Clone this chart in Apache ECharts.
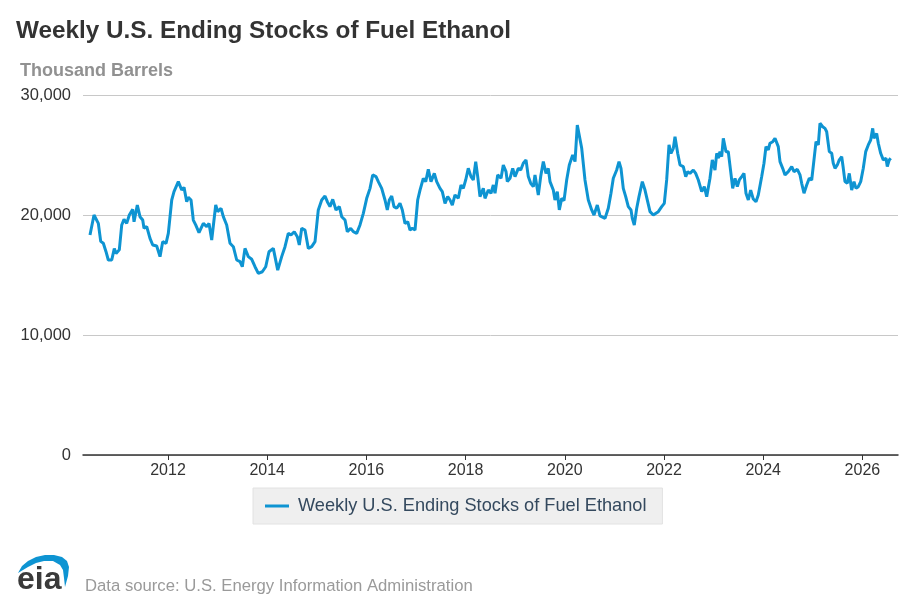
<!DOCTYPE html>
<html>
<head>
<meta charset="utf-8">
<script src="https://cdn.jsdelivr.net/npm/echarts@6/dist/echarts.min.js"></script>
<style>
html,body{margin:0;padding:0;background:#ffffff;}
#chart{width:914px;height:609px;}
</style>
</head>
<body>
<div id="chart"></div>
<script>
// ---- data ----
const seriesName = 'Weekly U.S. Ending Stocks of Fuel Ethanol';
const chartTitle = 'Weekly U.S. Ending Stocks of Fuel Ethanol';
const unitLabel = 'Thousand Barrels';
const sourceLabel = 'Data source: U.S. Energy Information Administration';

// time of each reading, in decimal years
const weekYears = [
  2010.427, 2010.508, 2010.528, 2010.595, 2010.643, 2010.696, 2010.750, 2010.796, 2010.865, 2010.917, 2010.952,
  2011.018, 2011.067, 2011.113, 2011.167, 2011.220, 2011.288, 2011.315, 2011.381, 2011.435, 2011.490, 2011.516, 2011.571, 2011.637, 2011.692, 2011.772, 2011.839, 2011.893, 2011.960,
  2012.006, 2012.075, 2012.121, 2012.208, 2012.276, 2012.323, 2012.377, 2012.409, 2012.464, 2012.510, 2012.558, 2012.625, 2012.712, 2012.780, 2012.827, 2012.881, 2012.962,
  2013.002, 2013.069, 2013.115, 2013.183, 2013.250, 2013.317, 2013.385, 2013.452, 2013.498, 2013.552, 2013.619, 2013.688, 2013.754, 2013.821, 2013.901, 2013.970,
  2014.036, 2014.123, 2014.212, 2014.292, 2014.359, 2014.425, 2014.480, 2014.546, 2014.607, 2014.647, 2014.696, 2014.762, 2014.829, 2014.897, 2014.964,
  2015.030, 2015.099, 2015.165, 2015.212, 2015.266, 2015.321, 2015.387, 2015.454, 2015.502, 2015.569, 2015.615, 2015.683, 2015.736, 2015.804, 2015.871, 2015.938,
  2016.006, 2016.073, 2016.127, 2016.194, 2016.240, 2016.308, 2016.375, 2016.421, 2016.462, 2016.510, 2016.556, 2016.611, 2016.677, 2016.724, 2016.778, 2016.833, 2016.879, 2016.925, 2016.980,
  2017.034, 2017.081, 2017.147, 2017.196, 2017.248, 2017.302, 2017.369, 2017.417, 2017.484, 2017.530, 2017.585, 2017.639, 2017.686, 2017.732, 2017.786, 2017.853, 2017.907, 2017.954,
  2018.002, 2018.054, 2018.109, 2018.155, 2018.204, 2018.244, 2018.290, 2018.357, 2018.391, 2018.458, 2018.512, 2018.559, 2018.593, 2018.647, 2018.714, 2018.760, 2018.815, 2018.841, 2018.895, 2018.950, 2018.996,
  2019.063, 2019.111, 2019.163, 2019.218, 2019.264, 2019.313, 2019.365, 2019.399, 2019.466, 2019.514, 2019.567, 2019.621, 2019.667, 2019.702, 2019.768, 2019.802, 2019.849, 2019.889, 2019.938, 2019.984,
  2020.038, 2020.091, 2020.159, 2020.206, 2020.252, 2020.292, 2020.341, 2020.407, 2020.474, 2020.542, 2020.589, 2020.655, 2020.710, 2020.811, 2020.877, 2020.931, 2020.978,
  2021.046, 2021.093, 2021.133, 2021.179, 2021.228, 2021.280, 2021.335, 2021.361, 2021.401, 2021.450, 2021.496, 2021.536, 2021.563, 2021.617, 2021.671, 2021.718, 2021.784, 2021.819, 2021.885, 2021.954,
  2022.006, 2022.054, 2022.101, 2022.141, 2022.188, 2022.222, 2022.276, 2022.323, 2022.389, 2022.438, 2022.478, 2022.524, 2022.591, 2022.639, 2022.692, 2022.760, 2022.813, 2022.861, 2022.927, 2022.974,
  2023.028, 2023.063, 2023.095, 2023.129, 2023.163, 2023.196, 2023.250, 2023.296, 2023.345, 2023.385, 2023.432, 2023.478, 2023.518, 2023.567, 2023.613, 2023.653, 2023.700, 2023.748, 2023.800, 2023.855, 2023.901, 2023.970,
  2024.016, 2024.056, 2024.103, 2024.137, 2024.192, 2024.238, 2024.304, 2024.339, 2024.393, 2024.440, 2024.506, 2024.575, 2024.621, 2024.688, 2024.742, 2024.776, 2024.823, 2024.877, 2024.929, 2024.978,
  2025.024, 2025.065, 2025.111, 2025.145, 2025.200, 2025.246, 2025.280, 2025.333, 2025.381, 2025.413, 2025.448, 2025.494, 2025.534, 2025.583, 2025.615, 2025.649, 2025.696, 2025.736, 2025.784, 2025.831, 2025.871, 2025.917, 2025.966,
  2026.018, 2026.067, 2026.119, 2026.167, 2026.208, 2026.234, 2026.288, 2026.321, 2026.369, 2026.421, 2026.476, 2026.502, 2026.542, 2026.571
];

// ending stocks, thousand barrels
const stocks = [
  18330, 20000, 19900, 19300, 17800, 17640, 16940, 16250, 16250, 17200, 16800,
  17100, 19170, 19640, 19300, 20000, 20470, 19440, 20830, 19860, 19580, 18890, 19030, 18050, 17500, 17420, 16530, 17780, 17640,
  18470, 21250, 21950, 22780, 22080, 22300, 21110, 21470, 21250, 19580, 19170, 18530, 19300, 19030, 19300, 17920, 20830,
  20280, 20560, 19860, 19170, 17640, 17360, 16250, 16110, 15690, 17220, 16530, 16310, 15690, 15140, 15270, 15690,
  16940, 17220, 15410, 16530, 17360, 18470, 18330, 18610, 18190, 17500, 18890, 18750, 17220, 17360, 17780,
  20420, 21250, 21580, 21110, 20700, 21300, 20420, 20700, 19860, 19580, 18610, 18890, 18610, 18470, 19170, 20140,
  21390, 22220, 23340, 23200, 22780, 22220, 21250, 20420, 21250, 21580, 20700, 20560, 20970, 20420, 19300, 19440, 18750, 18890, 18750,
  21250, 22080, 23060, 22780, 23810, 22780, 23470, 22780, 22220, 21950, 20970, 21530, 21250, 20830, 21670, 21390, 22500, 22220,
  22920, 23890, 23200, 22920, 24450, 23200, 21530, 22220, 21390, 22080, 21810, 22500, 21810, 23340, 23060, 24170, 23610, 22780, 23060, 23890, 23200,
  23890, 23750, 24310, 24590, 23200, 22640, 22360, 23340, 21670, 23200, 24450, 23470, 23890, 22780, 22080, 21250, 21950, 20420, 21390, 21200,
  22920, 24170, 25000, 24450, 27500, 27640, 25560, 22920, 21250, 20420, 20000, 20830, 19920, 19720, 20560, 21810, 23060,
  23750, 24450, 23890, 22220, 21530, 20700, 20420, 19720, 19170, 20560, 21530, 21670, 22780, 22080, 21110, 20280, 20000, 19860, 20280, 20700,
  20970, 22920, 25840, 25140, 25560, 26530, 25140, 24170, 24030, 23200, 23610, 23470, 23750, 23470, 22920, 21950, 22360, 21530, 23060, 24590,
  23750, 25140, 24730, 25280, 24860, 26390, 25280, 25280, 23610, 22220, 23060, 22360, 22920, 23200, 23470, 21810, 21250, 22080, 21330, 21110, 21670, 23200,
  24310, 25700, 25420, 25980, 26110, 26390, 25700, 24450, 23890, 23340, 23610, 24030, 23610, 23810, 23340, 22640, 21810, 22500, 23060, 22920,
  24590, 26110, 25840, 27640, 27360, 27220, 26940, 25280, 25140, 24310, 23890, 24170, 24590, 24860, 23890, 22780, 22640, 23470, 22080, 22780, 22220, 22360, 22780,
  23890, 25280, 25840, 26250, 27220, 26390, 26800, 25980, 25140, 24590, 24730, 24030, 24590, 24730
];

const xTickYears = [2012, 2014, 2016, 2018, 2020, 2022, 2024, 2026];
const axisStartYear = 2010.286;
const axisEndYear = 2026.718;
const yTicks = [0, 10000, 20000, 30000];

// ---- chart ----
const FONT = '"Liberation Sans", Arial, Helvetica, sans-serif';
const BLUE = '#0e94d2';

const lineData = weekYears.map((y, i) => [y, stocks[i]]);

const chart = echarts.init(document.getElementById('chart'), null, {renderer: 'canvas'});
chart.setOption({
  animation: false,
  backgroundColor: '#ffffff',
  textStyle: {fontFamily: FONT},
  title: [
    {text: chartTitle, left: 11, top: 14,
     textStyle: {fontFamily: FONT, fontSize: 24.3, fontWeight: 'bold', color: '#333333'}},
    {text: unitLabel, left: 15, top: 57,
     textStyle: {fontFamily: FONT, fontSize: 18, fontWeight: 'bold', color: '#919191'}},
    {text: sourceLabel, left: 80, top: 573,
     textStyle: {fontFamily: FONT, fontSize: 16.7, fontWeight: 'normal', color: '#9a9a9a'}}
  ],
  grid: {left: 83, right: 16, top: 95, bottom: 154},
  xAxis: {
    type: 'value',
    min: axisStartYear,
    max: axisEndYear,
    axisLine: {show: true, onZero: false, lineStyle: {color: '#333333', width: 1.5}},
    axisTick: {show: true, customValues: xTickYears, length: 5, lineStyle: {color: '#333333', width: 1}},
    axisLabel: {customValues: xTickYears, color: '#333333', fontSize: 16, fontFamily: FONT, margin: 8,
      formatter: v => String(Math.round(v))},
    splitLine: {show: false}
  },
  yAxis: {
    type: 'value',
    min: yTicks[0], max: yTicks[yTicks.length - 1], interval: 10000,
    axisLine: {show: false},
    axisTick: {show: false},
    axisLabel: {color: '#333333', fontSize: 16.5, fontFamily: FONT, margin: 12,
      formatter: v => v.toLocaleString('en-US')},
    splitLine: {lineStyle: {color: '#c8c8c8', width: 1}}
  },
  legend: {
    left: 253, top: 488,
    padding: [9, 16, 9, 12],
    backgroundColor: '#efefef',
    borderColor: '#e2e2e2', borderWidth: 1,
    icon: 'rect', itemWidth: 24, itemHeight: 3,
    textStyle: {fontFamily: FONT, fontSize: 18.2, color: '#34495e', padding: [0, 0, 0, 4]},
    data: [seriesName]
  },
  graphic: [
    {type: 'text', x: 17, y: 564,
     style: {text: 'eia', font: 'bold 32px "Liberation Sans", Arial, sans-serif', fill: '#3a3a3a'}},
    {type: 'polygon', x: 0, y: 0,
     shape: {points: [[18,573],[22,566],[28,561],[36,557],[45,555],[54,555],[62,557],[67,561],[69,567],[68,576],[65,587],
                      [64,578],[63,570],[60,565],[53,561],[44,561],[36,563],[28,567]]},
     style: {fill: BLUE}}
  ],
  series: [{
    type: 'line',
    name: seriesName,
    data: lineData,
    showSymbol: false,
    symbol: 'none',
    lineStyle: {color: BLUE, width: 3},
    itemStyle: {color: BLUE},
    emphasis: {disabled: true}
  }]
});
</script>
</body>
</html>
